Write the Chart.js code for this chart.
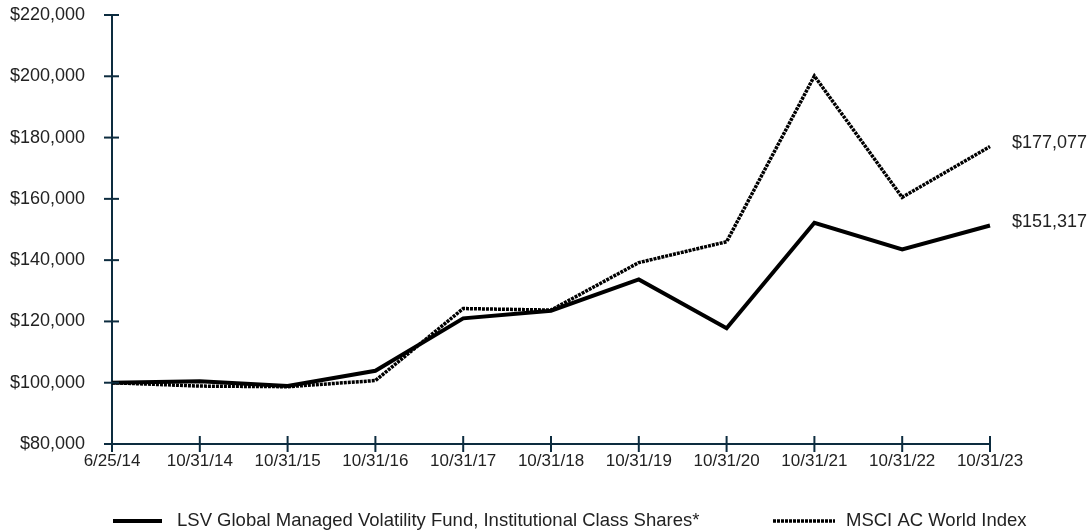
<!DOCTYPE html>
<html>
<head>
<meta charset="utf-8">
<script src="https://cdn.jsdelivr.net/npm/chart.js@4.4.1/dist/chart.umd.min.js"></script>
<style>
  html, body { margin: 0; padding: 0; background: #fff; }
  #wrap { position: relative; width: 1092px; height: 532px; }
</style>
</head>
<body>
<div id="wrap"><canvas id="growthChart" width="1092" height="532"></canvas></div>
<script>
const categories = ["6/25/14", "10/31/14", "10/31/15", "10/31/16", "10/31/17", "10/31/18",
  "10/31/19", "10/31/20", "10/31/21", "10/31/22", "10/31/23"];
const fundValues = [100000, 100500, 98900, 103900, 121000, 123500, 133700, 117800, 152200, 143500, 151317];
const indexValues = [100000, 98900, 98700, 100700, 124200, 123700, 139200, 146000, 200100, 160500, 177077];
const fundName = "LSV Global Managed Volatility Fund, Institutional Class Shares*";
const indexName = "MSCI AC World Index";
const yMin = 80000, yMax = 220000, yStep = 20000;

const axisColor = "#0d2c3f";
const textColor = "#222";
const family = "'Liberation Sans', Arial, sans-serif";
const money = v => "$" + Math.round(v).toLocaleString("en-US");

// tick marks that cross the axis line, plus end labels and legend
const extras = {
  id: "extras",
  afterDraw(chart) {
    const ctx = chart.ctx;
    const x = chart.scales.x, y = chart.scales.y;
    const area = chart.chartArea;
    ctx.save();
    ctx.strokeStyle = axisColor;
    ctx.lineWidth = 2;
    y.ticks.forEach((t, i) => {
      const py = y.getPixelForTick(i);
      ctx.beginPath(); ctx.moveTo(area.left - 8, py); ctx.lineTo(area.left + 7, py); ctx.stroke();
    });
    x.ticks.forEach((t, i) => {
      const px = x.getPixelForTick(i);
      ctx.beginPath(); ctx.moveTo(px, area.bottom - 8); ctx.lineTo(px, area.bottom + 8); ctx.stroke();
    });

    // end-value labels
    ctx.font = "18px " + family;
    ctx.fillStyle = textColor;
    ctx.textBaseline = "middle";
    ctx.textAlign = "left";
    chart.data.datasets.forEach((ds, di) => {
      const pts = chart.getDatasetMeta(di).data;
      const last = pts[pts.length - 1];
      ctx.fillText(money(ds.data[ds.data.length - 1]), last.x + 22, last.y - 3);
    });

    // legend
    const ly = 521;
    ctx.font = "18.5px " + family;
    ctx.strokeStyle = "#000";
    ctx.lineWidth = 4;
    ctx.beginPath(); ctx.moveTo(113, ly); ctx.lineTo(162, ly); ctx.stroke();
    ctx.fillText(fundName, 177, ly);
    ctx.lineWidth = 3.5;
    ctx.setLineDash([3, 1]);
    ctx.beginPath(); ctx.moveTo(773, ly); ctx.lineTo(835, ly); ctx.stroke();
    ctx.setLineDash([]);
    ctx.fillText(indexName, 846, ly);
    ctx.restore();
  }
};

new Chart(document.getElementById("growthChart"), {
  type: "line",
  data: {
    labels: categories,
    datasets: [
      {
        label: fundName,
        data: fundValues,
        borderColor: "#000",
        borderWidth: 4,
        pointRadius: 0,
        tension: 0,
        fill: false,
      },
      {
        label: indexName,
        data: indexValues,
        borderColor: "#000",
        borderWidth: 3.5,
        borderDash: [3, 1],
        borderCapStyle: "butt",
        pointRadius: 0,
        tension: 0,
        fill: false,
      },
    ],
  },
  options: {
    responsive: false,
    animation: false,
    layout: { padding: { top: 15, right: 102, bottom: 48, left: 0 } },
    plugins: { legend: { display: false }, tooltip: { enabled: false } },
    scales: {
      x: {
        offset: false,
        grid: { display: true, drawOnChartArea: false, drawTicks: false },
        border: { display: true, color: axisColor, width: 2 },
        ticks: {
          color: textColor,
          font: { family: family, size: 17 },
          padding: 7,
          maxRotation: 0,
          autoSkip: false,
        },
        afterFit(scale) { scale.height = 40; scale.paddingLeft = 0; scale.paddingRight = 0; },
      },
      y: {
        min: yMin,
        max: yMax,
        grid: { display: true, drawOnChartArea: false, drawTicks: false },
        border: { display: true, color: axisColor, width: 2 },
        ticks: {
          stepSize: yStep,
          color: textColor,
          font: { family: family, size: 18 },
          padding: 27,
          callback: v => money(v),
        },
        afterFit(scale) { scale.width = 112; scale.paddingTop = 0; scale.paddingBottom = 0; },
      },
    },
  },
  plugins: [extras],
});
</script>
</body>
</html>
